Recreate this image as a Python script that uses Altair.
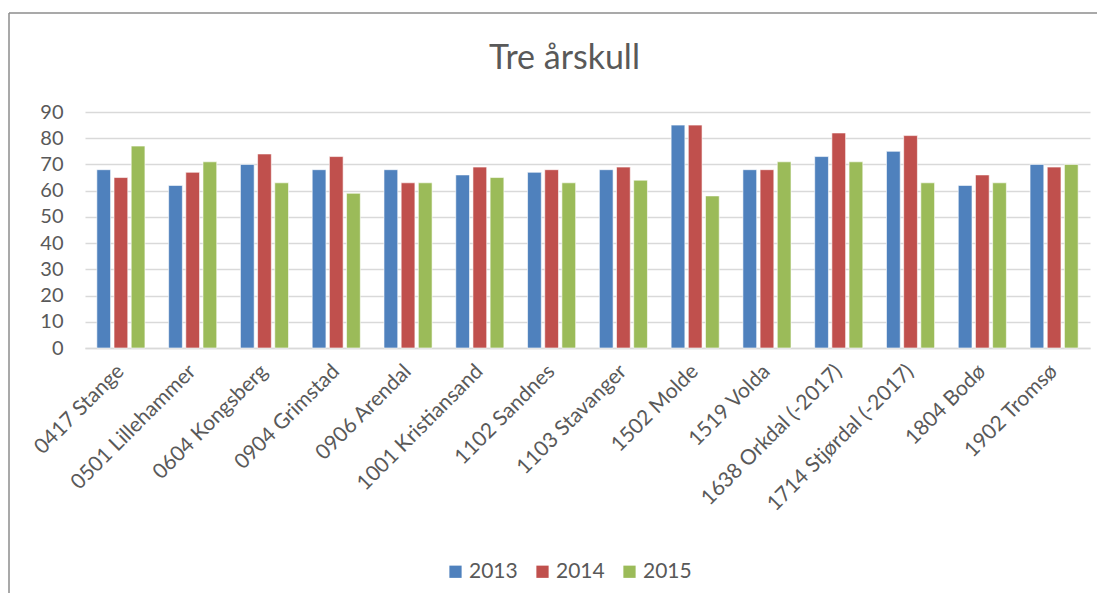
import altair as alt
import pandas as pd

regions = ["0417 Stange", "0501 Lillehammer", "0604 Kongsberg", "0904 Grimstad",
           "0906 Arendal", "1001 Kristiansand", "1102 Sandnes", "1103 Stavanger",
           "1502 Molde", "1519 Volda", "1638 Orkdal (-2017)", "1714 Stjørdal (-2017)",
           "1804 Bodø", "1902 Tromsø"]
years = ["2013", "2014", "2015"]
v2013 = [68, 62, 70, 68, 68, 66, 67, 68, 85, 68, 73, 75, 62, 70]
v2014 = [65, 67, 74, 73, 63, 69, 68, 69, 85, 68, 82, 81, 66, 69]
v2015 = [77, 71, 63, 59, 63, 65, 63, 64, 58, 71, 71, 63, 63, 70]
colors = ["#4F81BD", "#C0504D", "#9BBB59"]
y_ticks = [0, 10, 20, 30, 40, 50, 60, 70, 80, 90]

rows = []
for yr, vals in zip(years, [v2013, v2014, v2015]):
    for r, v in zip(regions, vals):
        rows.append({"Region": r, "Year": yr, "Value": v})
df = pd.DataFrame(rows)

FONT = "Lato"
TXT = "#595959"

bars = alt.Chart(df).mark_bar(stroke="white", strokeWidth=0.6).encode(
    x=alt.X("Region:N", sort=regions, title=None,
            scale=alt.Scale(paddingInner=0.33, paddingOuter=0.165),
            axis=alt.Axis(labelAngle=-45, labelAlign="right", labelBaseline="middle",
                          labelFontSize=21, labelColor=TXT, labelFont=FONT,
                          labelPadding=20, ticks=False, domainColor="#D9D9D9",
                          domainWidth=1.5, grid=False, labelOverlap=False,
                          labelLimit=400)),
    xOffset=alt.XOffset("Year:N", sort=years, scale=alt.Scale(paddingInner=0.2)),
    y=alt.Y("Value:Q", title=None,
            scale=alt.Scale(domain=[0, 90], nice=False),
            axis=alt.Axis(values=y_ticks, labelFontSize=20, labelColor=TXT,
                          labelFont=FONT, labelPadding=22, ticks=False, domain=False,
                          gridColor="#D9D9D9", gridWidth=1.5)),
    color=alt.Color("Year:N", sort=years,
                    scale=alt.Scale(domain=years, range=colors),
                    legend=alt.Legend(title=None, orient="none", direction="horizontal",
                                      legendX=360, legendY=449, symbolType="square",
                                      symbolSize=150, symbolStrokeWidth=0,
                                      labelFontSize=21, labelColor=TXT, labelFont=FONT,
                                      columnPadding=14, labelOffset=3)),
)

border_data = alt.Data(values=[{"k": 1}])
left_border = alt.Chart(border_data).mark_rule(color="#8C8C8C", strokeWidth=1.5).encode(
    x=alt.value(-76), y=alt.value(-99), y2=alt.value(600))
top_border = alt.Chart(border_data).mark_rule(color="#8C8C8C", strokeWidth=1.5).encode(
    x=alt.value(-76), x2=alt.value(1100), y=alt.value(-99))

chart = alt.layer(bars, left_border, top_border).properties(
    width=1005, height=236,
    title=alt.TitleParams("Tre årskull", fontSize=34, font=FONT, color=TXT,
                          fontWeight="normal", anchor="middle", frame="group",
                          offset=0, dy=64, dx=-23),
    autosize=alt.AutoSizeParams(type="none"),
    padding={"left": 77, "top": 104, "right": 7, "bottom": 245},
).configure_view(stroke=None)

chart.save("out.html", embed_options={"renderer": "svg", "actions": False})
